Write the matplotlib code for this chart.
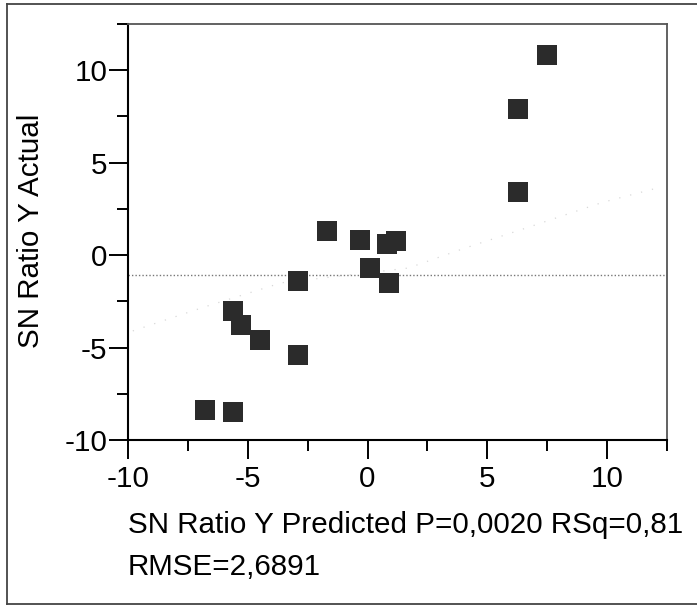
import numpy as np
import matplotlib
matplotlib.use("Agg")
import matplotlib.pyplot as plt
from matplotlib.lines import Line2D
from matplotlib.ticker import MultipleLocator

plt.rcParams["font.family"] = ["Liberation Sans", "DejaVu Sans"]
plt.rcParams["axes.unicode_minus"] = False

# points
pred = [7.5, 6.3, 6.3, -1.7, -0.3, 0.8, 1.2, 0.1, 0.9, -2.9, -5.6, -5.3, -4.5, -2.9, -6.8, -5.6]
actual = [10.8, 7.9, 3.4, 1.3, 0.8, 0.6, 0.75, -0.7, -1.5, -1.4, -3.0, -3.8, -4.6, -5.4, -8.4, -8.5]

mean_line = -1.1

# faint confidence curve (barely visible in the scan)
conf_x = [-9.8, -6.8, -3.6, 1.7, 4.0, 6.7, 9.8, 12.3]
conf_y = [-4.1, -2.8, -1.5, -0.7, 0.35, 1.5, 2.85, 3.7]

xlabel_1 = "SN Ratio Y Predicted P=0,0020 RSq=0,81"
xlabel_2 = "RMSE=2,6891"
ylabel = "SN Ratio Y Actual"

FS = 21.3
W, H = 697, 606
fig = plt.figure(figsize=(W / 100, H / 100), dpi=100)
ax = fig.add_axes([128 / W, 1 - 440 / H, 539 / W, 416 / H])

ax.axhline(mean_line, color="#777777", linestyle=(0, (1, 1.5)), linewidth=1.0, zorder=1)
ax.plot(conf_x, conf_y, color="#d8d8d8", linestyle=(0, (1, 8)), linewidth=0.9, zorder=1)
ax.plot(pred, actual, linestyle="none", marker="s", markersize=13.7,
        color="#2b2b2b", markeredgewidth=0, zorder=3)

ax.set_xlim(-10, 12.5)
ax.set_ylim(-10, 12.5)
for axis in (ax.xaxis, ax.yaxis):
    axis.set_major_locator(MultipleLocator(5))
    axis.set_minor_locator(MultipleLocator(2.5))

ax.tick_params(which="major", length=13.7, width=1.4, labelsize=FS, color="black")
ax.tick_params(which="minor", length=7.9, width=1.4, color="black")
ax.tick_params(axis="x", which="major", pad=4)
ax.tick_params(axis="y", which="major", pad=1)

for s in ("left", "bottom"):
    ax.spines[s].set_linewidth(1.5)
    ax.spines[s].set_color("black")
for s in ("top", "right"):
    ax.spines[s].set_linewidth(1.3)
    ax.spines[s].set_color("#555555")

fig.text(31 / W, 1 - 231 / H, ylabel, rotation=90, ha="center", va="center", fontsize=FS)
fig.text(128 / W, 1 - 533 / H, xlabel_1, ha="left", va="baseline", fontsize=FS)
fig.text(128 / W, 1 - 575 / H, xlabel_2, ha="left", va="baseline", fontsize=FS)

# outer frame of the scanned report
frame_kw = dict(color="#444444", linewidth=1.3, transform=fig.transFigure)
fig.add_artist(Line2D([7 / W, 1], [1 - 4 / H, 1 - 4 / H], **frame_kw))
fig.add_artist(Line2D([7 / W, 7 / W], [1 - 4 / H, 1 - 604 / H], **frame_kw))
fig.add_artist(Line2D([7 / W, 1], [1 - 604 / H, 1 - 604 / H], **frame_kw))

fig.savefig("out.png", dpi=100)
